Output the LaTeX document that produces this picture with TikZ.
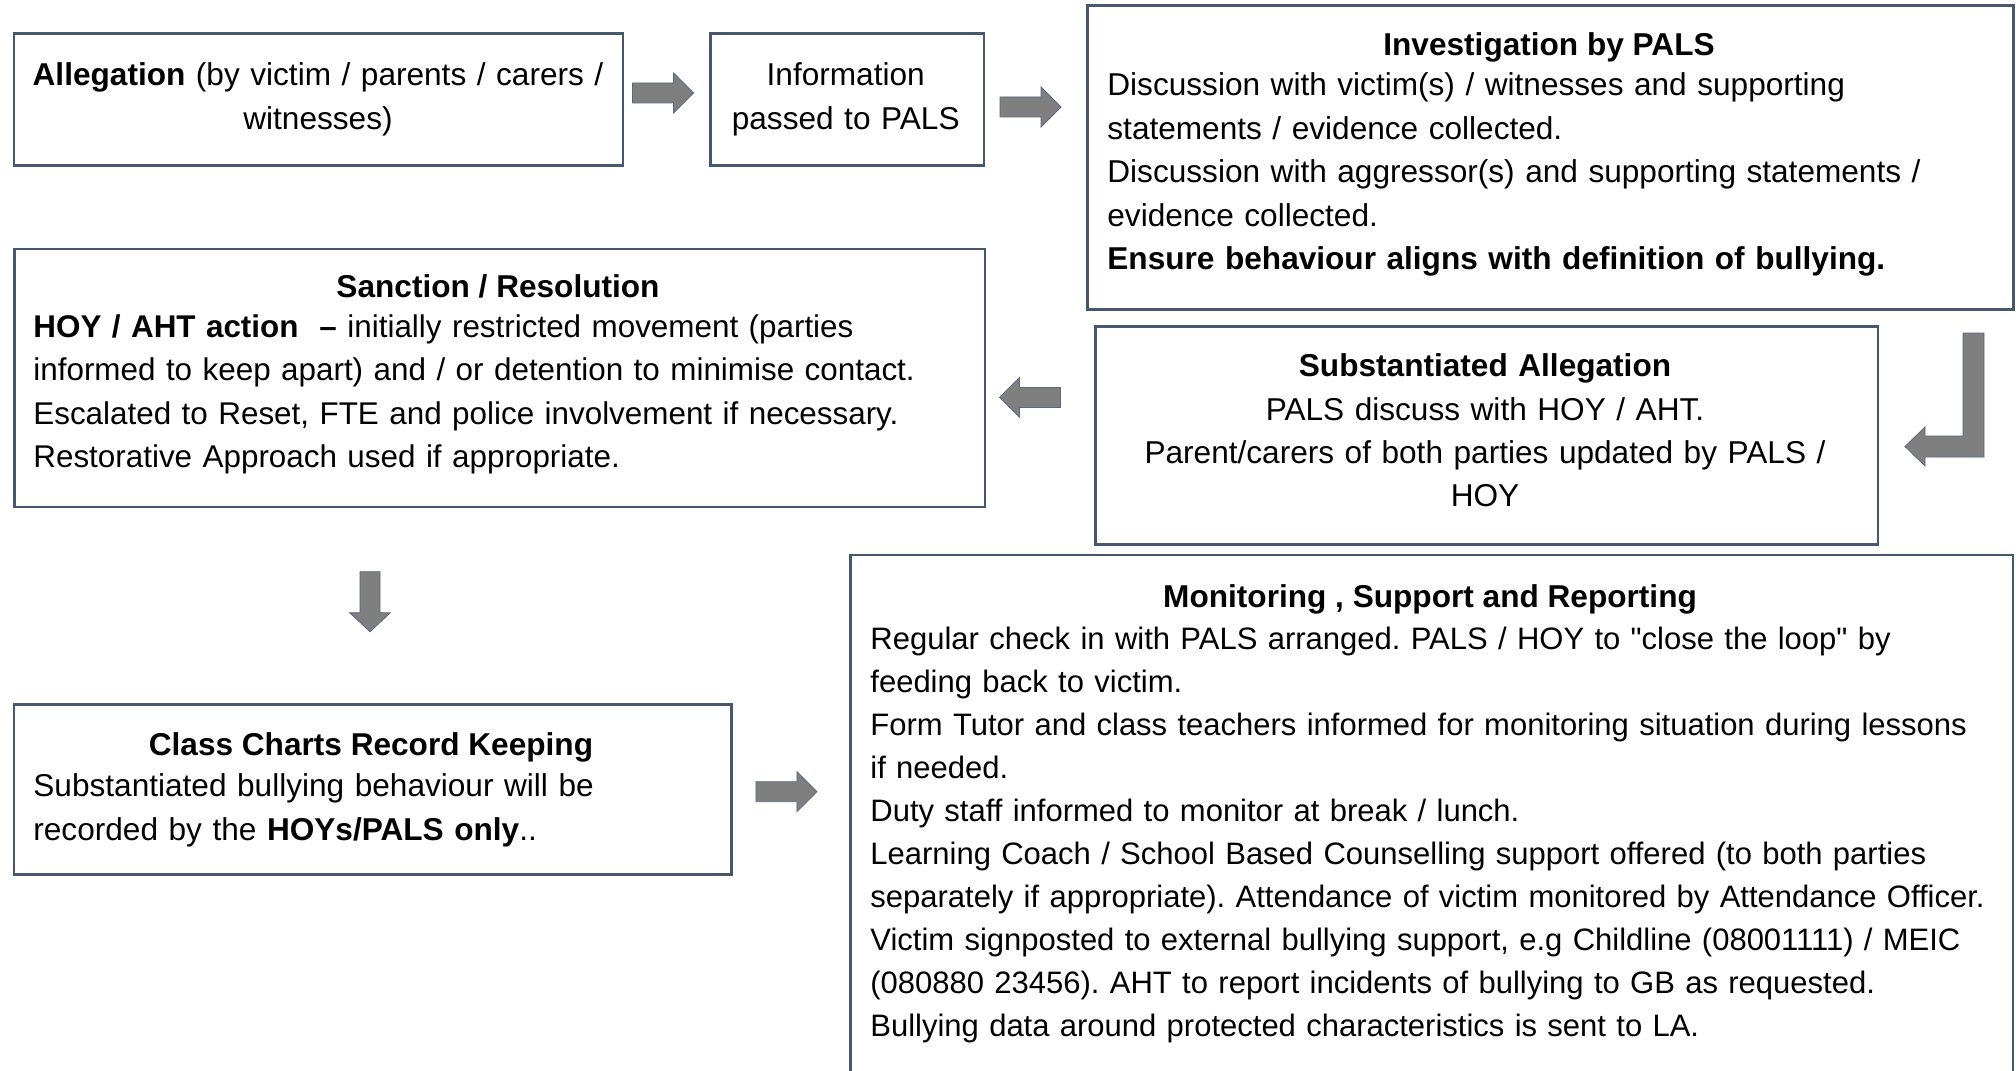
\documentclass[tikz,border=0pt]{standalone}
\usepackage{fontspec}
\setmainfont{Liberation Sans}
\newfontfamily\plainq{Liberation Sans}[Ligatures=ResetAll]
\usetikzlibrary{calc}
\frenchspacing
\definecolor{boxline}{RGB}{72,86,110}
\definecolor{arrfill}{RGB}{127,127,127}
\definecolor{arrline}{RGB}{90,104,128}
\tikzset{
  box/.style={draw=boxline, line width=1.25pt, fill=white, inner sep=0pt, anchor=north west, rectangle},
  ttl/.style={inner sep=0pt, anchor=base, font=\fontsize{15.8pt}{21.75pt}\selectfont\bfseries\frenchspacing},
  bodyl/.style={inner sep=0pt, anchor=base west, text width=620pt, align=left, font=\fontsize{15.8pt}{21.75pt}\selectfont\frenchspacing},
  bodyc/.style={inner sep=0pt, anchor=base, text width=500pt, align=center, font=\fontsize{15.8pt}{21.75pt}\selectfont\frenchspacing},
  blk/.style={fill=arrfill, draw=arrline, line width=0.4pt, line join=miter},
  pics/rarrow/.style={code={\draw[blk] (-30.5,-10) -- (10.5,-10) -- (10.5,-20) -- (30.5,0) -- (10.5,20) -- (10.5,10) -- (-30.5,10) -- cycle;}},
  pics/larrow/.style={code={\draw[blk] (30.5,-10) -- (-10.5,-10) -- (-10.5,-20) -- (-30.5,0) -- (-10.5,20) -- (-10.5,10) -- (30.5,10) -- cycle;}},
  pics/darrow/.style={code={\draw[blk] (-10,-30) -- (10,-30) -- (10,11) -- (20.4,11) -- (0,30) -- (-20.4,11) -- (-10,11) -- cycle;}},
}
\begin{document}
\begin{tikzpicture}[x=0.5pt,y=-0.5pt]
\clip (0,0) rectangle (2016,1070);
\fill[white] (0,0) rectangle (2016,1070);

% boxes
\node[box, minimum width=304.5pt, minimum height=65.75pt] (alleg) at (12.5,32.5) {};
\node[box, minimum width=136.75pt, minimum height=65.75pt] (info) at (709,32.5) {};
\node[box, minimum width=463pt, minimum height=151.75pt] (inv) at (1086,4.5) {};
\node[box, minimum width=485.25pt, minimum height=129pt] (sanc) at (13,247.5) {};
\node[box, minimum width=391.25pt, minimum height=109pt] (subst) at (1094,325) {};
\node[box, minimum width=358.75pt, minimum height=85pt] (cls) at (12.5,703) {};
\node[box, minimum width=581.25pt, minimum height=265pt] (mon) at (849,553.5) {};

% texts
\node[bodyc] (allegT) at (318,86) {\textbf{Allegation} (by victim / parents / carers /\\witnesses)};
\node[bodyc] (infoT) at (845.7,86) {Information\\passed to PALS};

\node[ttl] (invH) at (1549,56) {Investigation by PALS};
\node[bodyl] (invB) at (1107,96) {Discussion with victim(s) / witnesses and supporting\\
statements / evidence collected.\\
Discussion with aggressor(s) and supporting statements /\\
evidence collected.\\
\textbf{Ensure behaviour aligns with definition of bullying.}};

\node[ttl] (sancH) at (498,297.5) {Sanction / Resolution};
\node[bodyl, font=\fontsize{15.7pt}{21.75pt}\selectfont\frenchspacing] (sancB) at (33,337) {\textbf{HOY / AHT action\ \ –} initially restricted movement (parties\\
informed to keep apart) and / or detention to minimise contact.\\
Escalated to Reset, FTE and police involvement if necessary.\\
Restorative Approach used if appropriate.};

\node[bodyc, font=\fontsize{15.8pt}{21.65pt}\selectfont\frenchspacing] (substT) at (1485,376.7) {\textbf{Substantiated Allegation}\\
PALS discuss with HOY / AHT.\\
Parent/carers of both parties updated by PALS /\\
HOY};

\node[ttl] (clsH) at (371,755) {Class Charts Record Keeping};
\node[bodyl] (clsB) at (33,796.7) {Substantiated bullying behaviour will be\\
recorded by the \textbf{HOYs/PALS only}..};

\node[ttl] (monH) at (1430,607) {Monitoring , Support and Reporting};
\node[bodyl, font=\fontsize{15.5pt}{21.55pt}\selectfont\frenchspacing] (monB) at (870,649) {Regular check in with PALS arranged. PALS / HOY to {\plainq"}close the loop{\plainq"} by\\
feeding back to victim.\\
Form Tutor and class teachers informed for monitoring situation during lessons\\
if needed.\\
Duty staff informed to monitor at break / lunch.\\
Learning Coach / School Based Counselling support offered (to both parties\\
separately if appropriate). Attendance of victim monitored by Attendance Officer.\\
Victim signposted to external bullying support, e.g Childline (08001111) / MEIC\\
(080880 23456). AHT to report incidents of bullying to GB as requested.\\
Bullying data around protected characteristics is sent to LA.};

% block arrows
\pic (a1) at (663,93) {rarrow};
\pic (a2) at (1030.5,107) {rarrow};
\pic (a4) at (1030,397.4) {larrow};
\pic (a5) at (370,601.7) {darrow};
\pic (a6) at (786.4,791.7) {rarrow};
\draw[blk] (1963,333) -- (1984,333) -- (1984,457) -- (1925,457) -- (1925,466) -- (1905,446.5) -- (1925,427) -- (1925,436) -- (1963,436) -- cycle;
\end{tikzpicture}
\end{document}
